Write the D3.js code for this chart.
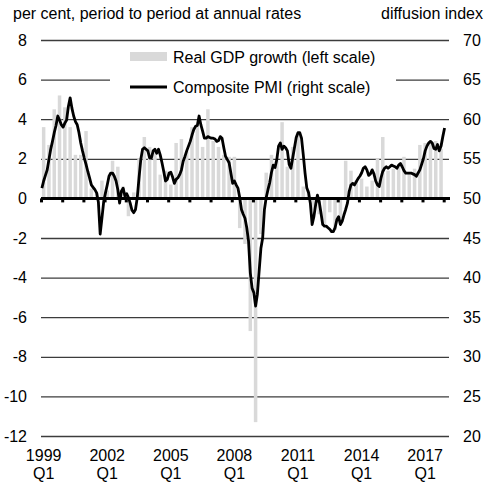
<!DOCTYPE html>
<html>
<head>
<meta charset="utf-8">
<script src="https://cdn.jsdelivr.net/npm/d3@7"></script>
<style>
  body { margin: 0; background: #fff; }
  svg { font-family: 'Liberation Sans', Arial, sans-serif; }
</style>
</head>
<body>
<div id="chart"></div>
<script>
// quarters shown on the axis: 1999 Q1 .. 2018 Q1
var quarters = []
for (var yr = 1999; yr <= 2018; yr++) {
  for (var q = 1; q <= 4; q++) {
    if (yr === 2018 && q > 1) break
    quarters.push(yr + 'Q' + q)
  }
}

// real GDP growth, per cent q/q at annual rates, 1999 Q1 .. 2017 Q4
var gdpGrowth = [
  3.6, 2.7, 4.5, 5.2,
  4.6, 3.6, 2.2, 2.2,
  3.4, 0.5, 0.3, 0.9,
  0.4, 1.9, 1.6, 0.6,
  -0.9, 0.3, 2.0, 3.1,
  2.6, 2.4, 1.2, 1.4,
  0.7, 2.8, 3.0, 2.4,
  3.6, 3.7, 2.6, 4.5,
  2.9, 2.6, 2.2, 2.1,
  2.1, -1.5, -2.3, -6.7,
  -11.3, -1.8, 1.3, 2.2,
  1.9, 3.85, 1.6, 2.6,
  3.2, 0.6, 0.4, -0.6,
  -0.8, -1.3, -0.7, -1.6,
  -1.0, 1.9, 1.4, 0.9,
  1.0, 0.6, 0.9, 2.0,
  3.1, 1.4, 1.5, 1.7,
  2.1, 1.3, 1.5, 2.7,
  2.8, 2.9, 2.9, 2.5
]

// composite PMI, monthly, Jan 1999 .. Jan 2018
var pmi = [
  51.3, 52.2, 52.9, 53.6, 54.9, 56.2, 57.2, 58.3, 59.2, 60.4, 59.9, 59.3,
  59.0, 59.5, 59.9, 61.6, 62.7, 61.4, 60.4, 59.7, 59.3, 58.3, 57.0, 56.0,
  55.1, 54.3, 53.4, 52.6, 51.7, 51.4, 51.1, 50.7, 49.5, 45.5, 47.5, 49.6,
  50.7, 51.7, 52.8, 53.2, 53.2, 52.8, 52.2, 51.1, 49.4, 50.9, 51.3, 50.3,
  50.6, 50.1, 49.4, 48.5, 48.2, 48.6, 50.1, 52.6, 54.9, 56.2, 56.4, 56.2,
  56.0, 55.1, 55.1, 56.0, 56.2, 55.7, 56.2, 55.5, 54.5, 53.4, 52.2, 52.4,
  53.2, 53.3, 52.7, 51.9, 52.4, 52.6, 53.0, 53.6, 54.7, 55.3, 56.0, 56.6,
  57.2, 58.0, 58.7, 59.1, 59.2, 60.4, 59.3, 58.5, 57.6, 57.6, 57.8, 57.7,
  57.6, 57.6, 57.5, 57.2, 57.3, 57.8, 57.6, 56.4, 55.3, 54.9, 54.5, 53.2,
  51.9, 52.2, 51.7, 51.3, 50.1, 48.6, 48.0, 47.5, 46.3, 44.6, 40.6, 38.7,
  38.1, 36.4, 37.9, 40.8, 43.7, 45.0, 48.6, 50.1, 51.1, 52.0, 53.3, 54.2,
  53.9, 54.9, 56.6, 57.0, 56.2, 56.6, 56.4, 56.0, 54.3, 53.8, 55.1, 56.4,
  57.7, 58.3, 58.3, 57.6, 55.5, 53.2, 51.3, 50.7, 49.4, 46.7, 47.7, 49.2,
  50.4, 49.6, 48.2, 46.7, 46.5, 46.5, 46.3, 46.1, 45.8, 45.8, 46.3, 47.3,
  47.7, 46.7, 47.1, 47.9, 48.6, 49.4, 50.9, 51.7, 51.9, 51.7, 52.1, 52.5,
  52.8, 53.2, 53.8, 54.0, 53.6, 52.9, 53.1, 53.6, 53.1, 52.2, 51.7, 51.5,
  52.6, 53.4, 53.8, 54.0, 53.8, 54.0, 54.2, 54.1, 54.0, 53.8, 54.2, 54.4,
  54.0, 53.5, 53.2, 53.2, 53.2, 53.2, 53.1, 53.0, 52.8, 53.2, 53.6, 54.3,
  55.0, 56.0, 56.6, 57.0, 57.2, 57.0, 56.3, 56.2, 56.8, 56.0, 56.6, 57.8,
  58.9
]

var leftTicks = [-12, -10, -8, -6, -4, -2, 0, 2, 4, 6, 8]
var rightTicks = [20, 25, 30, 35, 40, 45, 50, 55, 60, 65, 70]
var labelYears = [1999, 2002, 2005, 2008, 2011, 2014, 2017]
var tickYears = d3.range(1999, 2019)

var dims = { width: 485, height: 485, left: 41, right: 449, top: 40, bottom: 436 }
var fontSize = '16px'

var svg = d3.select('#chart').append('svg')
  .attr('width', dims.width)
  .attr('height', dims.height)

// scales
var x = d3.scaleBand()
  .domain(quarters)
  .range([dims.left, dims.right])
  .paddingInner(0.34)
  .paddingOuter(0.17)

var xMonth = d3.scaleLinear()
  .domain([0, quarters.length * 3])
  .range([dims.left, dims.right])

var xYear = d3.scaleLinear()
  .domain([1999, 1999 + quarters.length / 4])
  .range([dims.left, dims.right])

var yLeft = d3.scaleLinear().domain([-12, 8]).range([dims.bottom, dims.top])
var yRight = d3.scaleLinear().domain([20, 70]).range([dims.bottom, dims.top])

// gridlines
var grid = svg.append('g')
  .attr('transform', 'translate(' + dims.left + ',0)')
  .call(d3.axisLeft(yLeft).tickValues(leftTicks.filter(function(d) { return d !== 0 }))
    .tickSize(-(dims.right - dims.left)).tickFormat(''))
grid.select('.domain').remove()
grid.selectAll('line').attr('stroke', '#3c3c3c').attr('stroke-width', 1.3)

// bars
svg.append('g').selectAll('rect')
  .data(gdpGrowth)
  .enter()
  .append('rect')
  .attr('x', function(d, i) { return x(quarters[i]) })
  .attr('width', x.bandwidth())
  .attr('y', function(d) { return yLeft(Math.max(0, d)) })
  .attr('height', function(d) { return Math.abs(yLeft(d) - yLeft(0)) })
  .attr('fill', '#d9d9d9')

// zero line with year ticks
var zero = svg.append('g')
  .attr('transform', 'translate(0,' + yLeft(0) + ')')
  .call(d3.axisBottom(xYear).tickValues(tickYears).tickSize(4).tickFormat(''))
zero.select('.domain').remove()
zero.selectAll('line').attr('stroke', '#000').attr('stroke-width', 3)
svg.append('line')
  .attr('x1', dims.left).attr('x2', dims.right + 1)
  .attr('y1', yLeft(0)).attr('y2', yLeft(0))
  .attr('stroke', '#000').attr('stroke-width', 3)

// PMI line
var line = d3.line()
  .x(function(d, i) { return xMonth(i + 0.5) })
  .y(function(d) { return yRight(d) })

svg.append('path')
  .datum(pmi)
  .attr('d', line)
  .attr('fill', 'none')
  .attr('stroke', '#000')
  .attr('stroke-width', 2.8)
  .attr('stroke-linejoin', 'round')

// axes labels
var left = svg.append('g')
  .attr('transform', 'translate(' + 33 + ',0)')
  .call(d3.axisLeft(yLeft).tickValues(leftTicks).tickSize(0).tickPadding(6)
    .tickFormat(function(d) { return String(d) }))
left.select('.domain').remove()

var right = svg.append('g')
  .attr('transform', 'translate(' + 457 + ',0)')
  .call(d3.axisRight(yRight).tickValues(rightTicks).tickSize(0).tickPadding(6)
    .tickFormat(function(d) { return String(d) }))
right.select('.domain').remove()

svg.selectAll('.tick text')
  .attr('fill', '#000')
  .style('font-size', fontSize)
  .style('font-family', "'Liberation Sans', Arial, sans-serif")

// x labels, two lines each
var xl = svg.append('g').selectAll('text')
  .data(labelYears)
  .enter()
  .append('text')
  .attr('text-anchor', 'middle')
  .style('font-size', fontSize)
xl.append('tspan')
  .attr('x', function(d) { return xYear(d + 0.125) })
  .attr('y', 461)
  .text(function(d) { return d })
xl.append('tspan')
  .attr('x', function(d) { return xYear(d + 0.125) })
  .attr('y', 479)
  .text('Q1')

// units
svg.append('text').attr('x', 13).attr('y', 19).style('font-size', fontSize)
  .text('per cent, period to period at annual rates')
svg.append('text').attr('x', 483).attr('y', 19).attr('text-anchor', 'end').style('font-size', fontSize)
  .text('diffusion index')

// legend
var legend = svg.append('g')
legend.append('rect')
  .attr('x', 110).attr('y', 45).attr('width', 286).attr('height', 55)
  .attr('fill', '#fff')
legend.append('rect')
  .attr('x', 130).attr('y', 52).attr('width', 37).attr('height', 9)
  .attr('fill', '#d9d9d9')
legend.append('text').attr('x', 173).attr('y', 63).style('font-size', fontSize)
  .text('Real GDP growth (left scale)')
legend.append('line')
  .attr('x1', 130).attr('x2', 167).attr('y1', 87).attr('y2', 87)
  .attr('stroke', '#000').attr('stroke-width', 3)
legend.append('text').attr('x', 173).attr('y', 93).style('font-size', fontSize)
  .text('Composite PMI (right scale)')
</script>
</body>
</html>
